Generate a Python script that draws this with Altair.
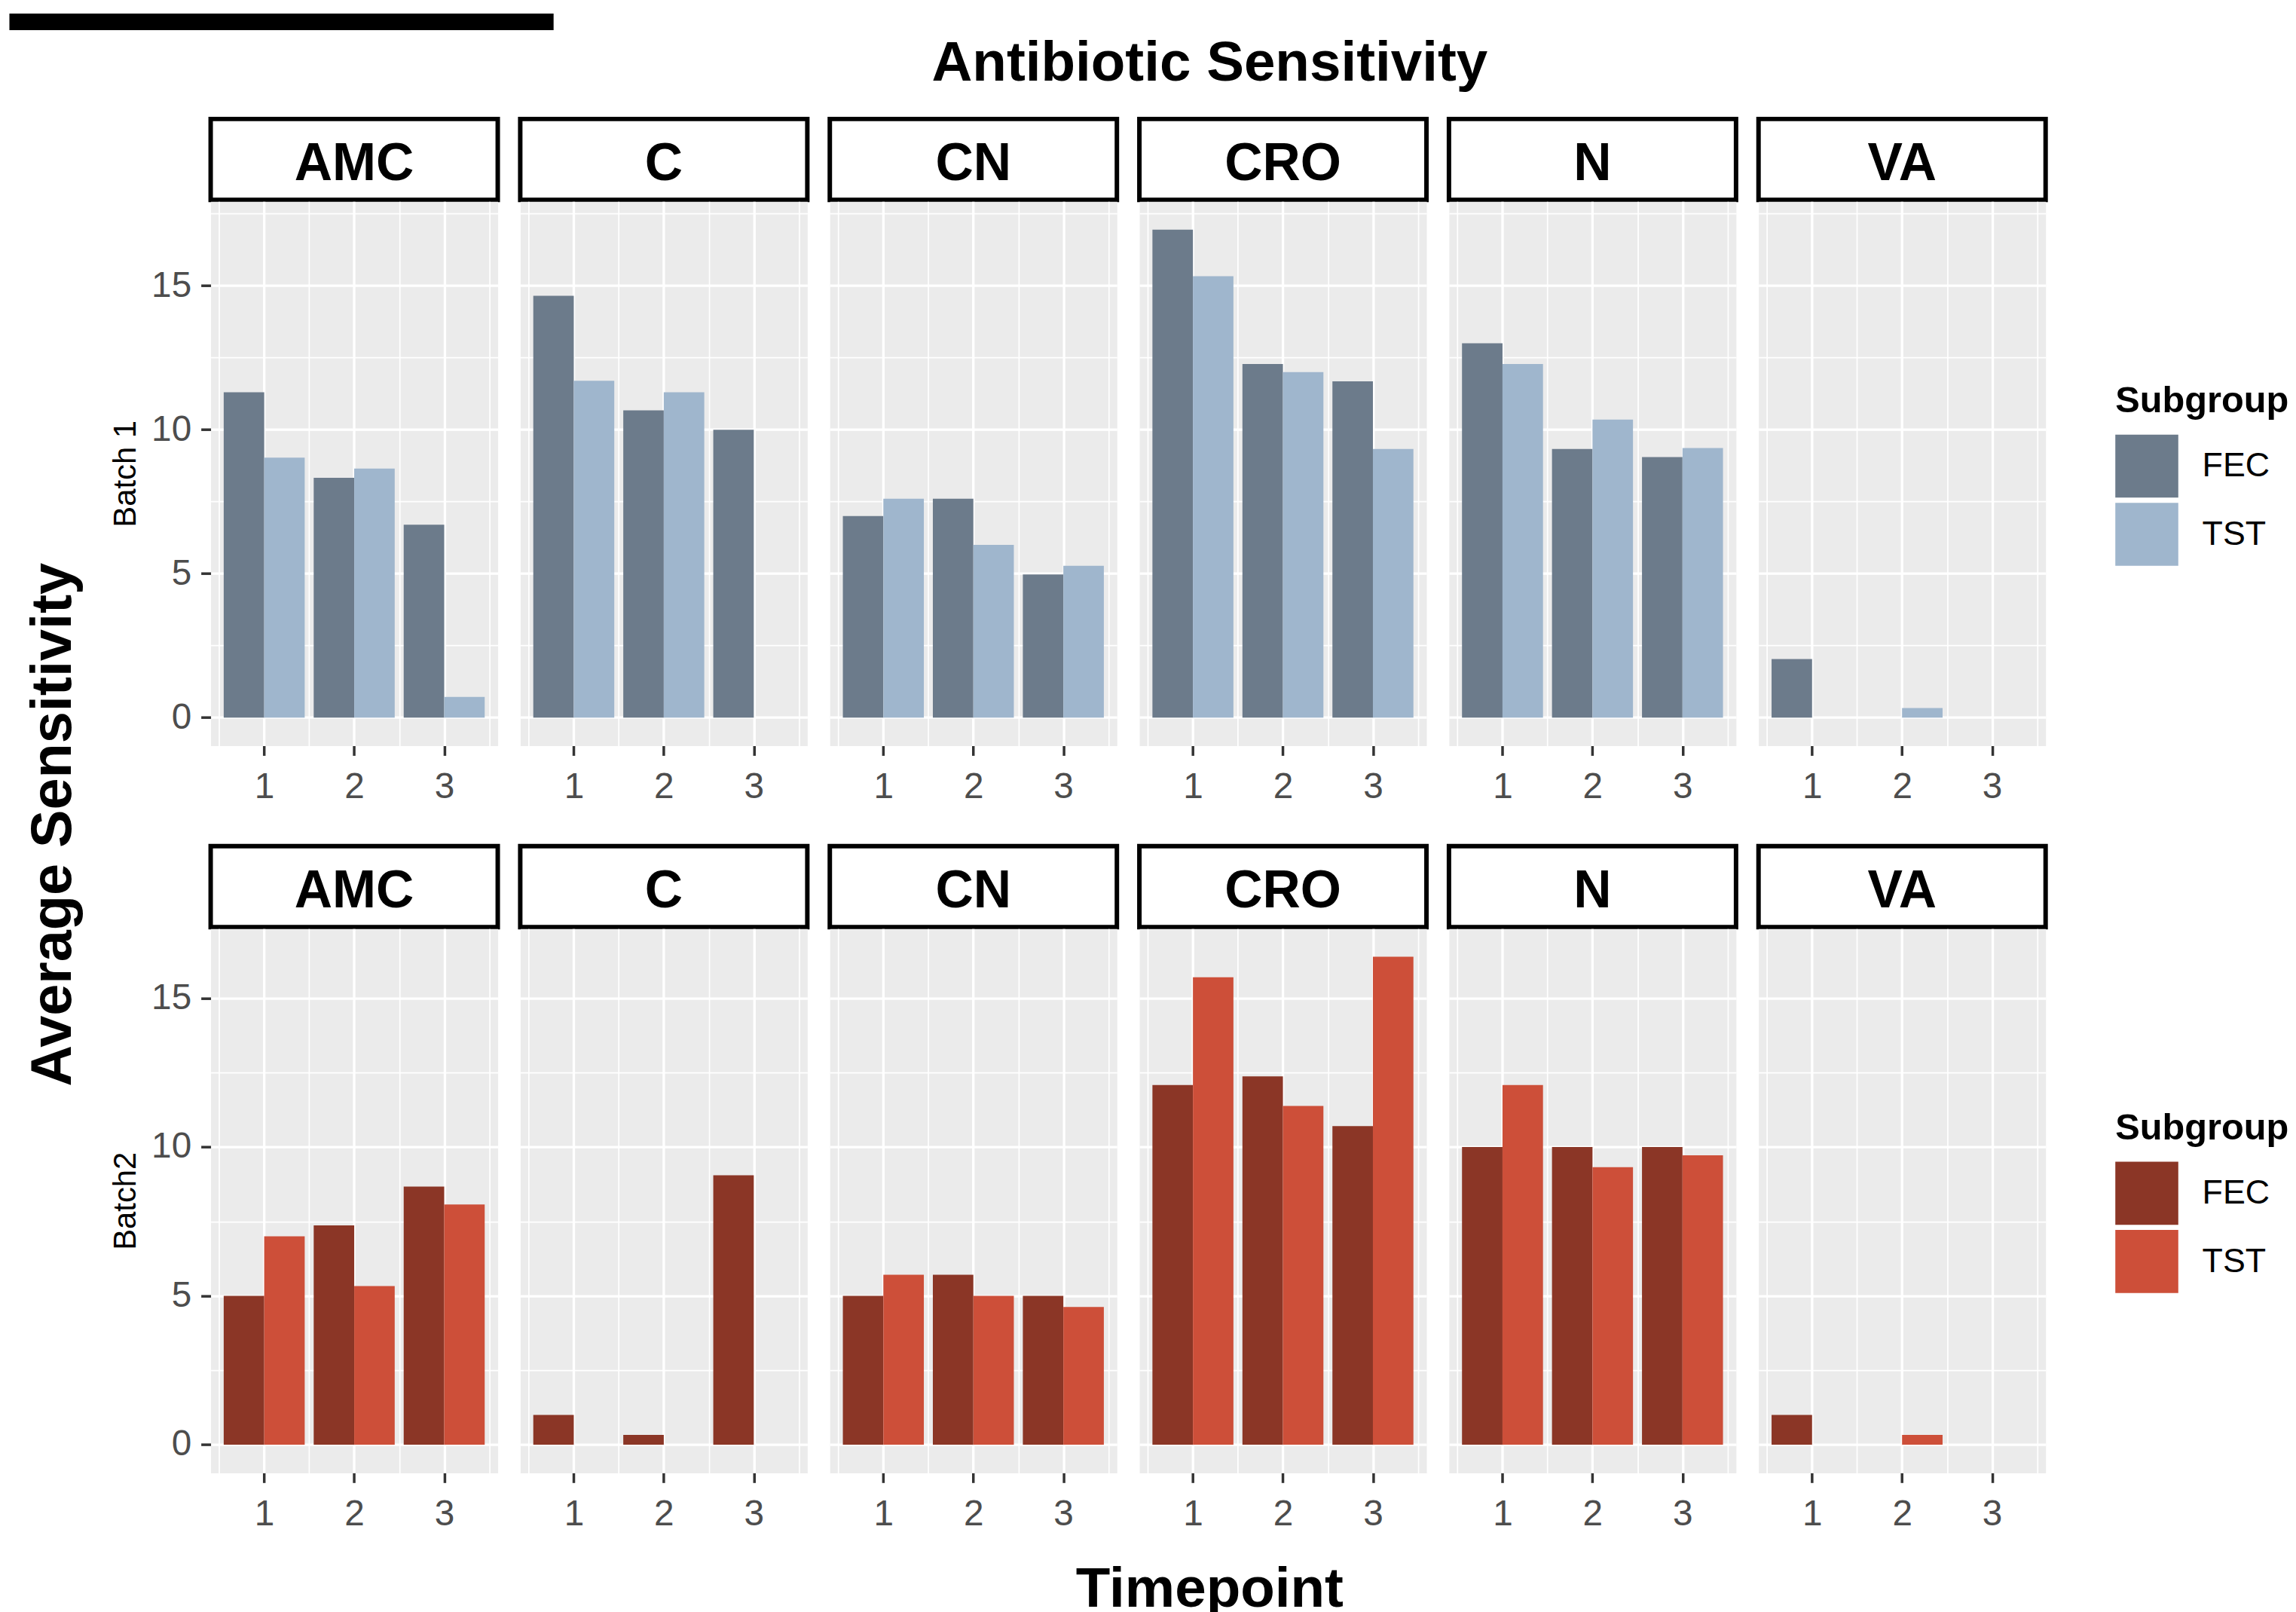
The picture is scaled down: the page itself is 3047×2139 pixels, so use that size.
import altair as alt
import pandas as pd

FONT = "Liberation Sans"

antibiotics = ["AMC", "C", "CN", "CRO", "N", "VA"]
timepoints = [1, 2, 3]
subgroups = ["FEC", "TST"]
batch_labels = ["Batch 1", "Batch2"]

# values ordered antibiotic (AMC, C, CN, CRO, N, VA) x timepoint (1, 2, 3)
batch1_fec = [11.3, 8.33, 6.7, 14.65, 10.67, 10.0, 7.0, 7.6, 4.97,
              16.95, 12.28, 11.68, 13.0, 9.33, 9.05, 2.03, 0.0, 0.0]
batch1_tst = [9.03, 8.65, 0.72, 11.7, 11.3, 0.0, 7.6, 6.0, 5.27,
              15.33, 12.0, 9.33, 12.28, 10.35, 9.36, 0.0, 0.33, 0.0]
batch2_fec = [5.0, 7.37, 8.67, 1.0, 0.33, 9.05, 5.0, 5.71, 5.0,
              12.08, 12.37, 10.7, 10.0, 10.0, 10.0, 1.0, 0.0, 0.0]
batch2_tst = [7.0, 5.33, 8.07, 0.0, 0.0, 0.0, 5.71, 5.0, 4.63,
              15.7, 11.38, 16.39, 12.08, 9.32, 9.72, 0.0, 0.33, 0.0]

batch1_colors = ["#6C7B8B", "#9FB6CD"]
batch2_colors = ["#8B3626", "#CD4F39"]

y_major = [0, 5, 10, 15]
y_minor = [2.5, 7.5, 12.5, 17.5]
x_minor = [0.5, 1.5, 2.5, 3.5]

PW, PH = 383, 726
STRIP_H = 108
COL_GAP = 30
ROW_PAD = 2
SPACER_H = 130
BAR_W = 0.45


def make_df(fec, tst):
    rows = []
    for vals, sg in ((fec, "FEC"), (tst, "TST")):
        k = 0
        for ab in antibiotics:
            for t in timepoints:
                rows.append({"Antibiotic": ab, "Timepoint": t, "Subgroup": sg, "Sensitivity": vals[k]})
                k += 1
    return pd.DataFrame(rows)


def panel(data, ab, colors, first, last, batch_label):
    ymax = data["Sensitivity"].max()
    ypad = 0.05 * ymax
    ydom = [-ypad, ymax + ypad]
    xlo = min(timepoints) - BAR_W
    xhi = max(timepoints) + BAR_W
    xpad = 0.05 * (xhi - xlo)
    xdom = [xlo - xpad, xhi + xpad]
    yminor = [v for v in y_minor if ydom[0] <= v <= ydom[1]]
    xminor = [v for v in x_minor if xdom[0] <= v <= xdom[1]]

    sub = data[data["Antibiotic"] == ab]
    base = alt.Chart(sub).transform_calculate(
        xs=f"datum.Timepoint - {BAR_W} + (datum.Subgroup == 'TST' ? {BAR_W} : 0)",
        xe=f"datum.Timepoint + (datum.Subgroup == 'TST' ? {BAR_W} : 0)",
    )
    xscale = alt.Scale(domain=xdom, nice=False, zero=False)
    yscale = alt.Scale(domain=ydom, nice=False, zero=False)

    xaxis = alt.Axis(values=timepoints, grid=True, gridColor="white", gridWidth=3.3,
                     domain=False, ticks=True, tickColor="#333333", tickSize=13, tickWidth=3.5,
                     labels=True, labelFont=FONT, labelFontSize=48, labelColor="#4D4D4D",
                     labelPadding=18, labelFlush=False, format="d", title=None, orient="bottom",
                     zindex=0)
    if first:
        yaxis = alt.Axis(values=y_major, grid=True, gridColor="white", gridWidth=3.3,
                         domain=False, ticks=True, tickColor="#333333", tickSize=13, tickWidth=3.5,
                         labels=True, labelFont=FONT, labelFontSize=48, labelColor="#4D4D4D",
                         labelPadding=13, labelFlush=False, title=batch_label, titleFont=FONT,
                         titleFontSize=42, titleFontWeight="normal", titleColor="black",
                         titlePadding=12, orient="left", zindex=0)
    else:
        yaxis = alt.Axis(values=y_major, grid=True, gridColor="white", gridWidth=3.3,
                         domain=False, ticks=False, labels=False, title=None, orient="left",
                         zindex=0)

    if last:
        legend = alt.Legend(title="Subgroup", orient="none", legendX=476, legendY=242,
                            titleFont=FONT, titleFontSize=49, titleFontWeight="bold",
                            titleColor="black", titlePadding=20, titleLimit=400,
                            labelFont=FONT, labelLimit=400,
                            labelFontSize=45, labelColor="black", labelOffset=32,
                            symbolType="square", symbolSize=7056, symbolStrokeWidth=0,
                            symbolOpacity=1, rowPadding=7, padding=0)
        color = alt.Color("Subgroup:N", scale=alt.Scale(domain=subgroups, range=colors), legend=legend)
    else:
        color = alt.Color("Subgroup:N", scale=alt.Scale(domain=subgroups, range=colors), legend=None)

    minor = base.mark_bar(opacity=0).encode(
        x=alt.X("xs:Q", scale=xscale,
                axis=alt.Axis(values=xminor, grid=True, gridColor="white", gridWidth=1.7,
                              domain=False, ticks=False, labels=False, title=None,
                              orient="top", zindex=0)),
        x2="xe:Q",
        y=alt.Y("Sensitivity:Q", scale=yscale,
                axis=alt.Axis(values=yminor, grid=True, gridColor="white", gridWidth=1.7,
                              domain=False, ticks=False, labels=False, title=None,
                              orient="right", zindex=0)),
    )
    bars = base.mark_bar().encode(
        x=alt.X("xs:Q", scale=xscale, axis=xaxis),
        x2="xe:Q",
        y=alt.Y("Sensitivity:Q", scale=yscale, axis=yaxis),
        y2=alt.datum(0),
        color=color,
    )
    return alt.layer(minor, bars).resolve_axis(x="independent", y="independent").properties(
        width=PW, height=PH, view=alt.ViewBackground(fill="#EBEBEB", stroke="transparent"))


def strip(ab):
    return alt.Chart(pd.DataFrame({"label": [ab]})).mark_text(
        font=FONT, fontSize=70, fontWeight="bold", color="black", baseline="middle", dy=7
    ).encode(text="label:N").properties(
        width=PW, height=STRIP_H,
        view=alt.ViewBackground(fill="white", stroke="black", strokeWidth=6))


def blank(w, h, fill="transparent"):
    return alt.Chart(pd.DataFrame({"a": [0]})).mark_point(opacity=0).encode(
        x=alt.value(0), y=alt.value(0)).properties(
        width=w, height=h, view=alt.ViewBackground(fill=fill, stroke="transparent"))


df1 = make_df(batch1_fec, batch1_tst)
df2 = make_df(batch2_fec, batch2_tst)

cells = []
for bi, (data, colors) in enumerate(((df1, batch1_colors), (df2, batch2_colors))):
    cells += [strip(ab) for ab in antibiotics]
    cells += [panel(data, ab, colors, i == 0, i == len(antibiotics) - 1, batch_labels[bi])
              for i, ab in enumerate(antibiotics)]
    if bi == 0:
        cells += [blank(PW, SPACER_H) for _ in antibiotics]

grid = alt.concat(*cells, columns=len(antibiotics), spacing={"row": ROW_PAD, "column": COL_GAP},
                  bounds="flush").resolve_scale(color="independent")

body_left = alt.vconcat(grid).resolve_scale(color="independent").properties(
    title=alt.TitleParams("Average Sensitivity", orient="left", anchor="middle", frame="bounds",
                          font=FONT, fontSize=76, fontWeight="bold", color="black", offset=36))

body_tp = alt.vconcat(body_left).resolve_scale(color="independent").properties(
    title=alt.TitleParams("Timepoint", orient="bottom", anchor="middle", frame="bounds",
                          font=FONT, fontSize=75, fontWeight="bold", color="black", offset=40, dx=70))

body_top = alt.vconcat(body_tp).resolve_scale(color="independent").properties(
    title=alt.TitleParams("Antibiotic Sensitivity", anchor="middle", frame="bounds",
                          font=FONT, fontSize=75, fontWeight="bold", color="black", offset=32, dx=70))

chart = alt.vconcat(
    blank(726, 22, fill="black"),
    alt.hconcat(blank(1, 1), body_top, spacing=17).resolve_scale(color="independent"),
    spacing=7,
).resolve_scale(color="independent").properties(padding=0, background="white")

chart.save("out.html", embed_options={"renderer": "svg", "actions": False})
